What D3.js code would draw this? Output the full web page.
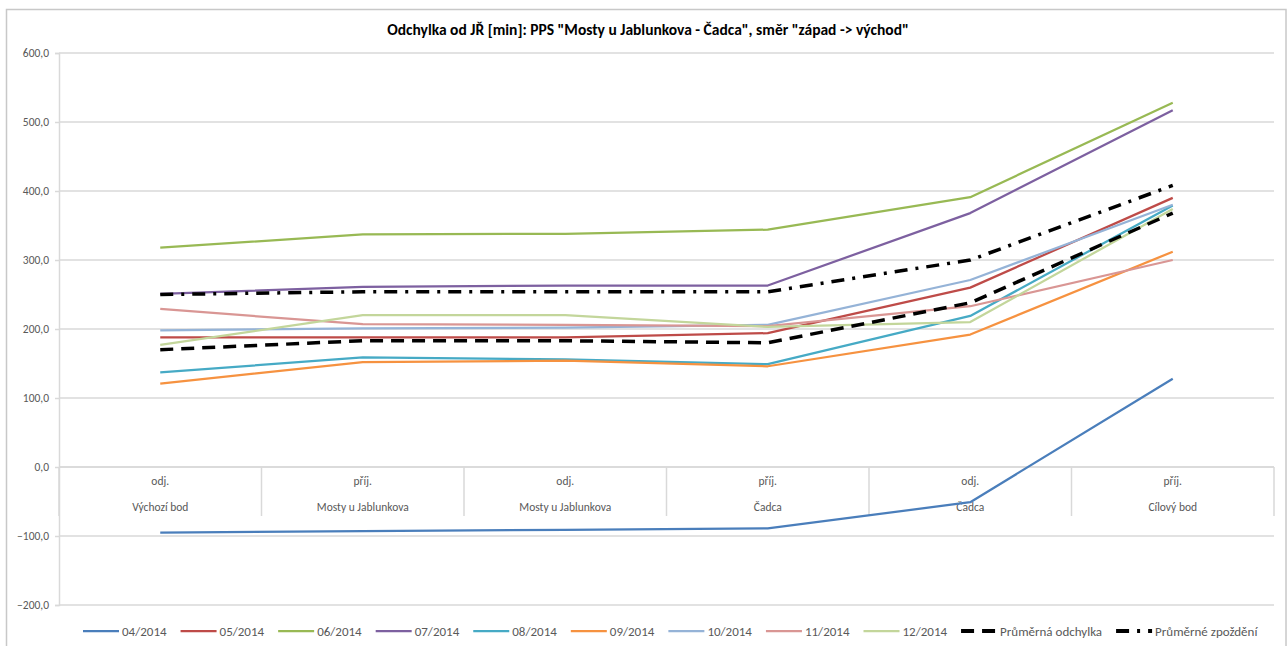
<!DOCTYPE html>
<html>
<head>
<meta charset="utf-8">
<script src="https://cdn.jsdelivr.net/npm/d3@7"></script>
<style>
  html, body { margin: 0; padding: 0; background: #fff; }
  svg { display: block; }
  text { font-family: Carlito, Lato, "Open Sans", sans-serif; }
</style>
</head>
<body>
<svg id="chart" width="1287" height="646"></svg>
<script>
const titleText = 'Odchylka od JŘ [min]: PPS "Mosty u Jablunkova - Čadca", směr "západ -> východ"';
const catTop = ["odj.", "příj.", "odj.", "příj.", "odj.", "příj."];
const catBottom = ["Výchozí bod", "Mosty u Jablunkova", "Mosty u Jablunkova", "Čadca", "Čadca", "Cílový bod"];
const yTicks = [-200, -100, 0, 100, 200, 300, 400, 500, 600];

const seriesNames = ["04/2014", "05/2014", "06/2014", "07/2014", "08/2014", "09/2014", "10/2014", "11/2014", "12/2014", "Průměrná odchylka", "Průměrné zpoždění"];
const s04 = [-95, -93, -91, -89, -51, 128];
const s05 = [188, 188, 188, 194, 260, 390];
const s06 = [318, 337, 338, 344, 391, 528];
const s07 = [251, 261, 263, 263, 368, 517];
const s08 = [137, 159, 156, 149, 219, 379];
const s09 = [121, 152, 154, 146, 192, 312];
const s10 = [198, 201, 202, 206, 271, 380];
const s11 = [229, 207, 206, 204, 233, 300];
const s12 = [177, 220, 220, 203, 210, 374];
const avgOdchylka = [170, 183, 183, 180, 238, 368];
const avgZpozdeni = [250, 254, 254, 254, 300, 408];

const seriesValues = [s04, s05, s06, s07, s08, s09, s10, s11, s12, avgOdchylka, avgZpozdeni];
const colors = ["#4A7EBB", "#BE4B48", "#98B954", "#7D60A0", "#46AAC5", "#F69240", "#95B3D7", "#D99694", "#C3D69B", "#000000", "#000000"];
const widths = [2.25, 2.25, 2.25, 2.25, 2.25, 2.25, 2.25, 2.25, 2.25, 3.5, 3.5];
const dashes = [null, null, null, null, null, null, null, null, null, "13,8", "13,8,3,8"];

const svg = d3.select("#chart");
const W = 1287, H = 646;
const plot = { left: 59, right: 1274, top: 53, bottom: 605 };

// outer frame
svg.append("rect").attr("x", 6.5).attr("y", 9.5).attr("width", W - 7.5).attr("height", H)
  .attr("fill", "#fff").attr("stroke", "#c8c8c8").attr("stroke-width", 1.5);

// title
svg.append("text").attr("x", 648).attr("y", 35).attr("text-anchor", "middle")
  .attr("font-size", 15.5).attr("font-weight", "bold").attr("fill", "#000").text(titleText);

const x = d3.scaleBand().domain(d3.range(catTop.length)).range([plot.left, plot.right]);
const y = d3.scaleLinear().domain([-200, 600]).range([plot.bottom, plot.top]);
const cx = i => x(i) + x.bandwidth() / 2;

// gridlines
svg.append("g").selectAll("line").data(yTicks).join("line")
  .attr("x1", plot.left).attr("x2", plot.right)
  .attr("y1", d => y(d)).attr("y2", d => y(d))
  .attr("stroke", "#d9d9d9").attr("stroke-width", 1.5);

// y axis
const yAxis = d3.axisLeft(y).tickValues(yTicks).tickSize(4).tickPadding(6)
  .tickFormat(d => d3.format(".1f")(d).replace(".", ","));
const yg = svg.append("g").attr("transform", `translate(${plot.left},0)`).call(yAxis);
yg.select(".domain").attr("stroke", "#d9d9d9").attr("stroke-width", 1.5);
yg.selectAll(".tick line").attr("stroke", "#d9d9d9").attr("stroke-width", 1.5);
yg.selectAll(".tick text").attr("font-size", 11.5).attr("fill", "#595959")
  .style("font-family", "Carlito, Lato, 'Open Sans', sans-serif");

// category axis at y = 0
const y0 = y(0);
svg.append("line").attr("x1", plot.left).attr("x2", plot.right).attr("y1", y0).attr("y2", y0)
  .attr("stroke", "#d9d9d9").attr("stroke-width", 1.5);
const bounds = d3.range(catTop.length + 1).map(i => i < catTop.length ? x(i) : plot.right);
svg.append("g").selectAll("line").data(bounds).join("line")
  .attr("x1", d => d).attr("x2", d => d).attr("y1", y0).attr("y2", y0 + 49)
  .attr("stroke", "#d9d9d9").attr("stroke-width", 1.5);
svg.append("g").selectAll("text").data(catTop).join("text")
  .attr("x", (d, i) => cx(i)).attr("y", y0 + 18).attr("text-anchor", "middle")
  .attr("font-size", 11.5).attr("fill", "#595959").text(d => d);
svg.append("g").selectAll("text").data(catBottom).join("text")
  .attr("x", (d, i) => cx(i)).attr("y", y0 + 44).attr("text-anchor", "middle")
  .attr("font-size", 11.5).attr("fill", "#595959").text(d => d);

// lines
const line = d3.line().x((d, i) => cx(i)).y(d => y(d));
svg.append("g").selectAll("path").data(seriesValues).join("path")
  .attr("d", d => line(d))
  .attr("fill", "none")
  .attr("stroke", (d, i) => colors[i])
  .attr("stroke-width", (d, i) => widths[i])
  .attr("stroke-dasharray", (d, i) => dashes[i])
  .attr("stroke-linejoin", "round");

// legend (items laid out sequentially: sample + gap + text + padding)
const legendY = 631;
const lg = svg.append("g");
let lx = 83;
seriesNames.forEach((name, i) => {
  lg.append("line").attr("x1", lx).attr("x2", lx + 36).attr("y1", legendY).attr("y2", legendY)
    .attr("stroke", colors[i]).attr("stroke-width", i >= 9 ? 4 : widths[i])
    .attr("stroke-dasharray", dashes[i]);
  const t = lg.append("text").attr("x", lx + 39).attr("y", legendY + 4.5)
    .attr("font-size", 13).attr("fill", "#595959").text(name);
  const tw = t.node().getComputedTextLength();
  lx += 39 + tw + 14;
});
</script>
</body>
</html>
